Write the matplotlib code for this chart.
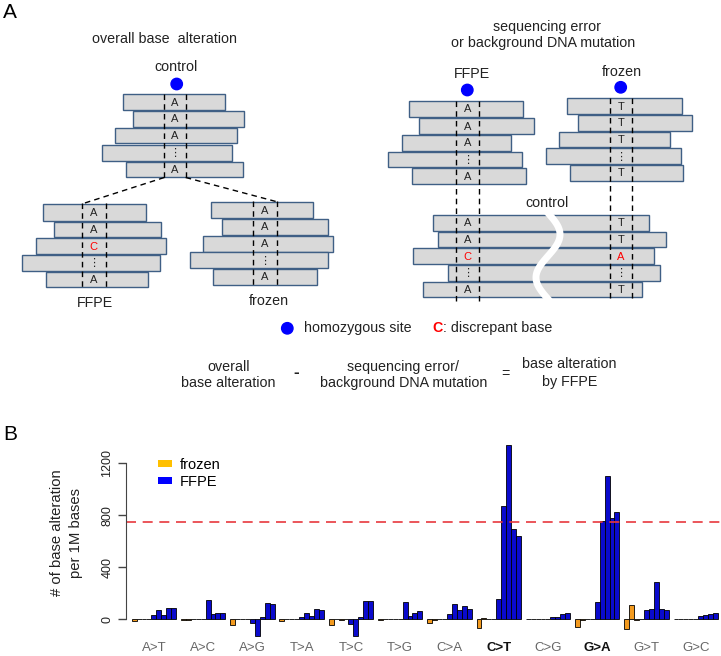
import numpy as np
import matplotlib
matplotlib.use("Agg")
import matplotlib.pyplot as plt
from matplotlib.patches import Rectangle, Circle, Patch

plt.rcParams['font.family'] = ['Liberation Sans', 'DejaVu Sans']

# ---- data for panel B ----
groups = ["A>T", "A>C", "A>G", "T>A", "T>C", "T>G",
          "C>A", "C>T", "C>G", "G>A", "G>T", "G>C"]
bold_groups = ["C>T", "G>A"]
frozen = [
    [-15, 0, 0, 0],
    [-5, -5, 0, 0],
    [-40, 0, 0, 0],
    [-10, 0, 0, 0],
    [-40, 0, -5, 0],
    [-5, 0, 0, 0],
    [-25, -5, 0, 0],
    [-69, 8, 0, 0],
    [0, 0, 0, 0],
    [-61, -5, 0, 0],
    [-77, 108, -5, 0],
    [0, 0, 0, 0],
]
ffpe = [
    [33, 72, 30, 88, 88],
    [0, 145, 42, 45, 45],
    [-30, -130, 20, 128, 120],
    [18, 50, 25, 80, 72],
    [-35, -128, 15, 143, 138],
    [0, 136, 22, 46, 62],
    [38, 118, 72, 102, 77],
    [156, 870, 1340, 694, 640],
    [3, 18, 20, 38, 46],
    [136, 758, 1104, 776, 822],
    [72, 77, 287, 77, 72],
    [3, 26, 33, 38, 46],
]
threshold = 750
yticks = [0, 400, 800, 1200]

W, H = 721, 656
fig = plt.figure(figsize=(W / 100, H / 100), dpi=100)

# ---- panel A: schematic, drawn in pixel coords ----
bg = fig.add_axes([0, 0, 1, 1])
bg.set_xlim(0, W)
bg.set_ylim(H, 0)
bg.axis("off")

READ_FILL = "#d9d9d9"
READ_EDGE = "#3f5f85"
TXT = "#222222"


def stack(rows, cols, letters, top, bottom, colors=None):
    for (x0, x1, y0, y1) in rows:
        bg.add_patch(Rectangle((x0, y0), x1 - x0, y1 - y0, fc=READ_FILL,
                               ec=READ_EDGE, lw=1.0, zorder=2))
    for cx in cols:
        bg.plot([cx, cx], [top, bottom], color="black", lw=1.0,
                dashes=(4, 3), zorder=4)
    lx = (cols[0] + cols[1]) / 2
    for i, (x0, x1, y0, y1) in enumerate(rows):
        c = colors[i] if colors else TXT
        bg.text(lx, (y0 + y1) / 2 + 0.5, letters[i], ha="center", va="center",
                fontsize=8, color=c, zorder=5)


dots = "\u22ee"
# control (left)
ctrl_rows = [(122.7, 225, 94.3, 110), (132.7, 244, 111, 126.7),
             (115, 237.3, 127.7, 143.3), (101.7, 232.3, 145, 160.7),
             (125.7, 243.3, 161.7, 177.3)]
stack(ctrl_rows, [164.3, 185.7], ["A", "A", "A", dots, "A"], 94, 177.5)
# FFPE (left)
ffpe_rows = [(43.3, 145.7, 204, 220.7), (54, 160.7, 221.7, 237.3),
             (35.7, 165.7, 238.3, 254), (21.7, 160, 255, 270.7),
             (45.7, 147.7, 271.7, 287.3)]
stack(ffpe_rows, [81.7, 106], ["A", "A", "C", dots, "A"], 203, 289,
      [TXT, TXT, "red", TXT, TXT])
# frozen (left)
froz_rows = [(211, 313.3, 201.7, 218.3), (221.7, 328.3, 219, 235),
             (202.7, 333.3, 235.7, 251.7), (190, 328.3, 252.3, 268.3),
             (213.3, 316.7, 269, 285)]
stack(froz_rows, [253.3, 276.7], ["A", "A", "A", dots, "A"], 201, 287)
bg.plot([164.3, 81.7], [177.5, 204], color="black", lw=1.0, dashes=(4, 3))
bg.plot([185.7, 276.7], [177.5, 201.7], color="black", lw=1.0, dashes=(4, 3))

# right side
rf_rows = [(409.3, 523.3, 101, 116.7), (419.3, 534, 118.3, 134),
           (401.7, 511, 135, 150.7), (388.3, 521.7, 151.7, 167.3),
           (411.7, 525.7, 168.3, 184)]
stack(rf_rows, [456, 479], ["A", "A", "A", dots, "A"], 101, 302)
rz_rows = [(567.3, 681.7, 98.3, 114), (578.3, 692.3, 115, 130.7),
           (559.3, 670, 131.7, 147.3), (546, 680.7, 148.3, 164),
           (570, 683.3, 165, 180.7)]
stack(rz_rows, [610, 631.7], ["T", "T", "T", dots, "T"], 98, 302)
rc_rows = [(432.7, 649.3, 215, 230.7), (438.3, 666, 231.7, 247.3),
           (413.3, 654, 248.3, 264), (447.7, 660, 265, 280.7),
           (422.7, 641.7, 281.7, 297.3)]
for (x0, x1, y0, y1) in rc_rows:
    bg.add_patch(Rectangle((x0, y0), x1 - x0, y1 - y0, fc=READ_FILL,
                           ec=READ_EDGE, lw=1.0, zorder=2))
for i, (x0, x1, y0, y1) in enumerate(rc_rows):
    ym = (y0 + y1) / 2 + 0.5
    bg.text(467.5, ym, ["A", "A", "C", dots, "A"][i], ha="center", va="center",
            fontsize=8, color="red" if i == 2 else TXT, zorder=5)
    bg.text(620.8, ym, ["T", "T", "A", dots, "T"][i], ha="center", va="center",
            fontsize=8, color="red" if i == 2 else TXT, zorder=5)
wy = np.linspace(211, 301, 80)
wx = 548 + 12 * np.sin(np.pi * (wy - 213) / 43)
bg.plot(wx, wy, color="white", lw=5, zorder=3, solid_capstyle="butt")

# blue dots
for (cx, cy) in [(176.7, 84), (467.3, 90), (620.7, 87.3), (287.3, 328.3)]:
    bg.add_patch(Circle((cx, cy), 5.7, color="#0000ff", zorder=5))

fs = 10.3
bg.text(3, 13, "A", fontsize=15, va="center", ha="left", color="black")
bg.text(165, 39, "overall base  alteration", fontsize=fs, ha="center", va="center", color=TXT)
bg.text(176, 67, "control", fontsize=fs, ha="center", va="center", color=TXT)
bg.text(95, 303.3, "FFPE", fontsize=fs, ha="center", va="center", color=TXT)
bg.text(269.3, 300.7, "frozen", fontsize=fs, ha="center", va="center", color=TXT)
bg.text(546.7, 27.3, "sequencing error", fontsize=fs, ha="center", va="center", color=TXT)
bg.text(542.7, 43.3, "or background DNA mutation", fontsize=fs, ha="center", va="center", color=TXT)
bg.text(471.7, 74, "FFPE", fontsize=fs, ha="center", va="center", color=TXT)
bg.text(621.7, 71.7, "frozen", fontsize=fs, ha="center", va="center", color=TXT)
bg.text(546.7, 203.3, "control", fontsize=fs, ha="center", va="center", color=TXT)
bg.text(304, 328, "homozygous site", fontsize=fs, ha="left", va="center", color=TXT)
bg.text(432.5, 328.5, "C", fontsize=fs, ha="left", va="center", color="red", fontweight="bold")
bg.text(443, 328, ": discrepant base", fontsize=fs, ha="left", va="center", color=TXT)
bg.text(228.3, 366.7, "overall", fontsize=fs, ha="center", va="center", color=TXT)
bg.text(228.3, 383.3, "base alteration", fontsize=fs, ha="center", va="center", color=TXT)
bg.text(296, 373, "-", fontsize=fs + 2, ha="center", va="center", color=TXT, fontweight="bold")
bg.text(403.3, 366.7, "sequencing error/", fontsize=fs, ha="center", va="center", color=TXT)
bg.text(403.3, 383.3, "background DNA mutation", fontsize=fs, ha="center", va="center", color=TXT)
bg.text(505, 374, "=", fontsize=fs, ha="center", va="center", color=TXT)
bg.text(569.3, 364, "base alteration", fontsize=fs, ha="center", va="center", color=TXT)
bg.text(569.3, 381.7, "by FFPE", fontsize=fs, ha="center", va="center", color=TXT)
bg.text(3, 435, "B", fontsize=15, va="center", ha="left", color="black")
bg.text(56.7, 533, "# of base alteration", fontsize=10.7, rotation=90,
        ha="center", va="center", color=TXT)
bg.text(76, 533, "per 1M bases", fontsize=10.7, rotation=90,
        ha="center", va="center", color=TXT)

# ---- panel B: bar chart ----
px_per_unit = 0.13
zero_px = 619.3
top_px, bot_px = 440, 638
ax = fig.add_axes([126 / W, 1 - bot_px / H, (W - 126) / W, (bot_px - top_px) / H])
ax.set_facecolor("none")

ORANGE = "#f39a1e"
BLUE = "#0a0acd"
for g in range(len(groups)):
    xs_f = [g * 10 + j for j in range(4)]
    xs_b = [g * 10 + 4 + j for j in range(5)]
    ax.bar(xs_f, frozen[g], width=1, align="edge", color=ORANGE,
           edgecolor="black", linewidth=0.6)
    ax.bar(xs_b, ffpe[g], width=1, align="edge", color=BLUE,
           edgecolor="black", linewidth=0.6)

slot_px = 4.926
ax.set_xlim((126 - 131.7) / slot_px, (W - 131.7) / slot_px)
ax.set_ylim(-(bot_px - zero_px) / px_per_unit, (zero_px - top_px) / px_per_unit)
ax.axhline(threshold, color="#e8383d", lw=1.2, dashes=(6, 4))

for s in ["top", "right", "bottom"]:
    ax.spines[s].set_visible(False)
ax.spines["left"].set_bounds(0, 1200)
ax.spines["left"].set_color("#444444")
ax.set_yticks(yticks)
ax.set_yticklabels([str(t) for t in yticks], rotation=90, va="center",
                   fontsize=9, color=TXT)
ax.tick_params(axis="y", length=6, width=1, color="#444444", pad=3)

ax.set_xticks([g * 10 + 4.5 for g in range(len(groups))])
ax.set_xticklabels(groups, fontsize=9.5)
ax.tick_params(axis="x", length=0, pad=3)
for lab in ax.get_xticklabels():
    if lab.get_text() in bold_groups:
        lab.set_fontweight("bold")
        lab.set_color("#111111")
    else:
        lab.set_color("#666666")

handles = [Patch(facecolor="#ffc000", edgecolor="none", label="frozen"),
           Patch(facecolor="#0000ff", edgecolor="none", label="FFPE")]
fig.legend(handles=handles, loc="upper left", frameon=False,
           bbox_to_anchor=(152 / W, 1 - 452 / H), fontsize=10.5,
           handlelength=1.0, handleheight=0.4, handletextpad=0.5,
           labelspacing=0.2, borderaxespad=0)

fig.savefig("out.png", dpi=100)
